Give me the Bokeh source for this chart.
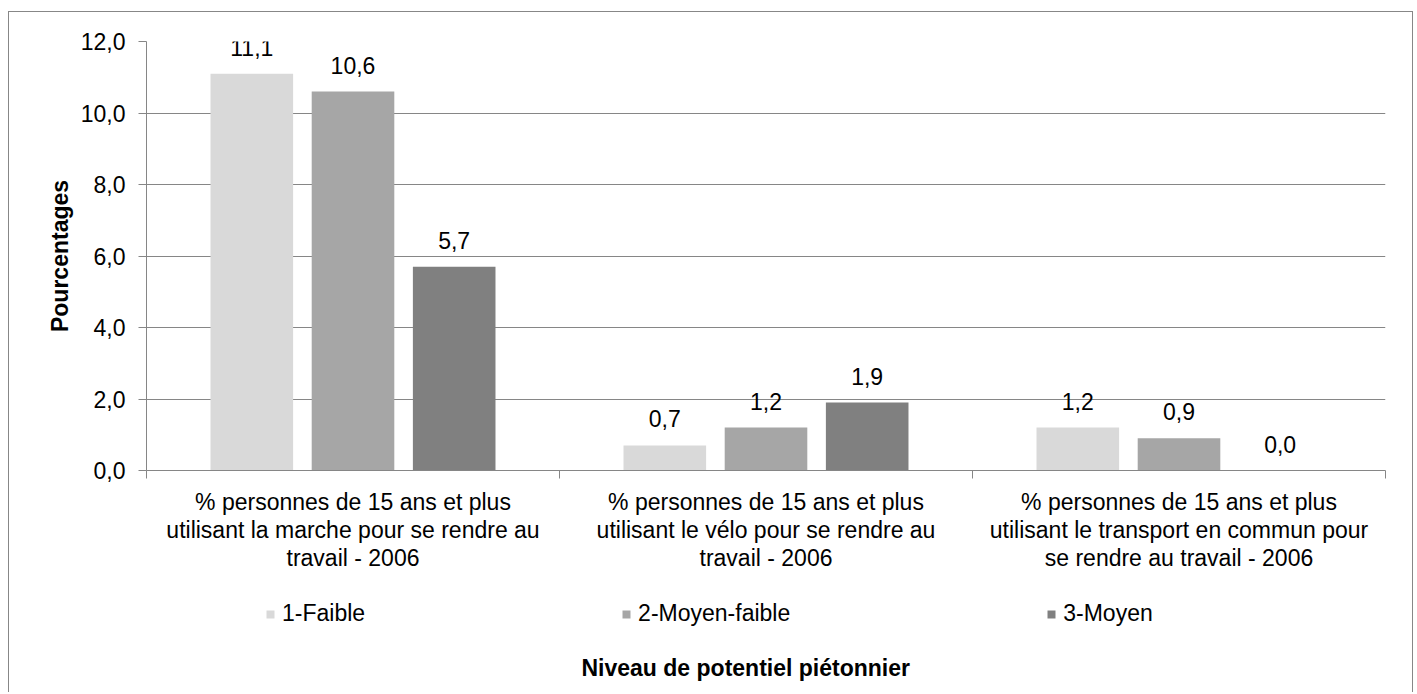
from bokeh.plotting import figure
from bokeh.layouts import column
from bokeh.models import (ColumnDataSource, Range1d, LinearAxis,
                          FixedTicker, Legend, LegendItem, LabelSet, Label)
from bokeh.core.properties import value
from bokeh.transform import dodge
from bokeh.embed import file_html
from bokeh.resources import INLINE

# ---------------- data ----------------
categories = [
    "% personnes de 15 ans et plus\nutilisant la marche pour se rendre au\ntravail - 2006",
    "% personnes de 15 ans et plus\nutilisant le vélo pour se rendre au\ntravail - 2006",
    "% personnes de 15 ans et plus\nutilisant le transport en commun pour\nse rendre au travail - 2006",
]
series_names = ["1-Faible", "2-Moyen-faible", "3-Moyen"]
faible = [11.1, 0.7, 1.2]
moyen_faible = [10.6, 1.2, 0.9]
moyen = [5.7, 1.9, 0.0]
y_ticks = [0, 2, 4, 6, 8, 10, 12]
y_tick_labels = ["0,0", "2,0", "4,0", "6,0", "8,0", "10,0", "12,0"]
y_title = "Pourcentages"
x_title = "Niveau de potentiel piétonnier"

# ---------------- style ----------------
FONT = "Liberation Sans"
FS = "23px"
GRAY = "#868686"
colors = ["#d9d9d9", "#a6a6a6", "#808080"]
offsets = [-0.245, 0.0, 0.245]
keys = ["faible", "moyen_faible", "moyen"]
W = 1403
FRAME_W = 1239  # plot-frame width (shared by both stacked figures)

def fmt(v):
    return f"{v:.1f}".replace(".", ",")

# category slots on a numeric axis: slot i spans [i, i+1], centre i+0.5
centres = [i + 0.5 for i in range(len(categories))]
bounds = list(range(len(categories) + 1))

data = dict(x=centres, cat=categories, faible=faible, moyen_faible=moyen_faible, moyen=moyen)
for k in keys:
    data[k + "_lbl"] = [fmt(v) for v in data[k]]
source = ColumnDataSource(data)

# ---------------- main chart ----------------
p = figure(x_range=Range1d(0, len(categories)),
           y_range=Range1d(0, 12),
           width=W, height=570,
           output_backend="svg", toolbar_location=None,
           x_axis_location=None,
           min_border_left=137, min_border_right=27,
           min_border_top=29, min_border_bottom=112)
p.outline_line_color = None
p.background_fill_color = "white"
p.border_fill_color = "white"

yax = p.yaxis[0]
yax.ticker = FixedTicker(ticks=y_ticks)
yax.major_label_overrides = {t: l for t, l in zip(y_ticks, y_tick_labels)}
yax.major_tick_out = 8
yax.major_tick_in = 0
yax.minor_tick_line_color = None
yax.major_tick_line_color = GRAY
yax.axis_line_color = GRAY
yax.major_label_standoff = 13
yax.major_label_text_font = FONT
yax.major_label_text_font_size = FS
yax.major_label_text_color = "black"
yax.axis_label = y_title
yax.axis_label_text_font = FONT
yax.axis_label_text_font_size = FS
yax.axis_label_text_font_style = "bold"
yax.axis_label_text_color = "black"
yax.axis_label_standoff = 5

p.ygrid.grid_line_color = GRAY
p.ygrid.ticker = FixedTicker(ticks=y_ticks)
p.xgrid.visible = False

# x axes: boundary tick marks + category labels
tick_axis = LinearAxis(ticker=FixedTicker(ticks=bounds),
                       major_tick_out=8, major_tick_in=0, minor_tick_line_color=None,
                       axis_line_color=GRAY, major_tick_line_color=GRAY,
                       major_label_overrides={b: "" for b in bounds},
                       major_label_text_font_size="1px", major_label_standoff=0)
p.add_layout(tick_axis, "below")
cat_axis = LinearAxis(ticker=FixedTicker(ticks=centres),
                      major_label_overrides={c: n for c, n in zip(centres, categories)},
                      major_tick_line_color=None, axis_line_color=None,
                      minor_tick_line_color=None,
                      major_tick_out=0, major_tick_in=0,
                      major_label_standoff=10,
                      major_label_text_font=FONT, major_label_text_font_size=FS,
                      major_label_text_color="black",
                      major_label_text_line_height=1.08)
p.add_layout(cat_axis, "below")

for key, col, off in zip(keys, colors, offsets):
    p.vbar(x=dodge("x", off), top=key, width=0.2, source=source,
           fill_color=col, line_color=None)
    lbl = LabelSet(x=dodge("x", off), y=key, text=key + "_lbl",
                   source=source, text_align="center", text_baseline="alphabetic",
                   y_offset=18, text_font=value(FONT), text_font_size=value(FS),
                   text_color="black")
    p.add_layout(lbl)

# ---------------- legend + x title strip ----------------
H2 = 110
p2 = figure(x_range=Range1d(0, FRAME_W), y_range=Range1d(0, H2),
            width=W, height=H2, output_backend="svg", toolbar_location=None,
            x_axis_location=None, y_axis_location=None,
            min_border_left=0, min_border_right=0, min_border_top=0, min_border_bottom=0)
p2.outline_line_color = None
p2.background_fill_color = "white"
p2.border_fill_color = "white"
p2.grid.visible = False

items = []
for name, col in zip(series_names, colors):
    # off-view zero-height swatch renderer, used only for the legend key
    swatch = p2.vbar(x=[-100], top=[0], width=1, fill_color=col, line_color=None)
    items.append(LegendItem(label=name, renderers=[swatch]))

legend = Legend(items=items, orientation="horizontal", location=(119, 65),
                glyph_width=10, glyph_height=10, label_standoff=7, spacing=256,
                padding=0, margin=0, border_line_color=None, background_fill_alpha=0,
                label_text_font=FONT, label_text_font_size=FS, label_text_color="black")
p2.add_layout(legend, "center")

p2.add_layout(Label(x=435, y=25, text=x_title, text_align="left", text_baseline="middle",
                    text_font=FONT, text_font_size=FS,
                    text_font_style="bold", text_color="black"))

layout = column(p, p2, spacing=0, styles={
    "border-top": "1px solid #878787",
    "border-left": "1px solid #878787",
    "border-right": "1px solid #878787",
    "margin-top": "11px",
    "margin-left": "8px",
})

open("out.html", "w").write(file_html(layout, INLINE))
